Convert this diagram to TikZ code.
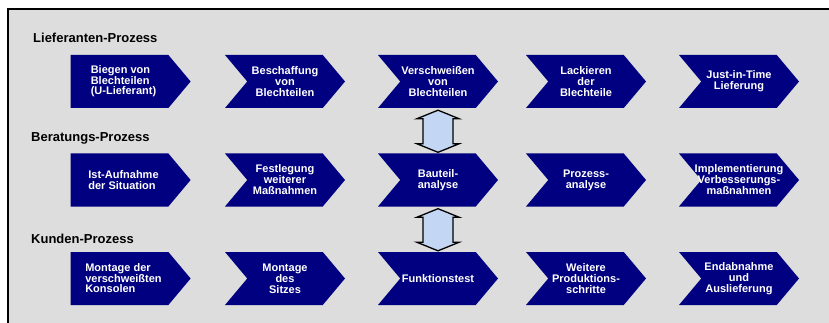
\documentclass[tikz,border=0pt]{standalone}
\usepackage{fontspec}
\setmainfont{Liberation Sans}
\usetikzlibrary{shapes.symbols,calc}
\definecolor{stepblue}{RGB}{0,0,128}
\definecolor{panelgray}{RGB}{221,221,221}
\definecolor{arrowblue}{RGB}{195,215,245}

% fat double arrow from one step to the step below
\newcommand{\updown}[2]{%
  \coordinate (tp) at ($(#1.south)+(0,2)$);
  \draw[dblarrow] (tp) -- ++(21,8.5) -- ++(-6,0) -- ($(#2.north)+(15,-9.5)$) -- ++(6,0)
    -- ($(#2.north)+(0,-1)$) -- ++(-21,-8.5) -- ++(6,0) -- ($(tp)+(-15,8.5)$) -- ++(-6,0) -- cycle;}

\begin{document}
\begin{tikzpicture}[x=1pt,y=-1pt,
    stepbox/.style={signal, signal to=east, signal from=west, signal pointer angle=100,
      fill=stepblue, minimum height=53pt, minimum width=120pt, inner sep=0pt},
    firstbox/.style={stepbox, signal from=nowhere},
    steptxt/.style={text=white, font=\fontsize{11}{11}\selectfont\bfseries, align=center, inner sep=0pt},
    lefttxt/.style={steptxt, align=left, xshift=4pt, font=\fontsize{11}{10.5}\selectfont\bfseries},
    head/.style={font=\fontsize{13}{15}\selectfont\bfseries, inner sep=0pt, anchor=base west},
    dblarrow/.style={fill=arrowblue, draw=black, line width=1.3pt, line join=miter}]
    \useasboundingbox (0,0) rectangle (829,323);
    \fill[panelgray] (8,9) rectangle (829,323);
    \draw[line width=1.2pt] (8,323) -- (8,9) -- (829,9);

    % Lieferanten-Prozess
    \node[head] (hl) at (33,43) {Lieferanten-Prozess};
    \node[firstbox, label={[lefttxt]center:{Biegen von\\Blechteilen\\(U-Lieferant)}}] (l1) at (119.5,81.5) {};
    \node[stepbox, label={[steptxt]center:{Beschaffung\\von\\Blechteilen}}] (l2) at (285,81.5) {};
    \node[stepbox, label={[steptxt]center:{Verschweißen\\von\\Blechteilen}}] (l3) at (438,81.5) {};
    \node[stepbox, label={[steptxt]center:{Lackieren\\der\\Blechteile}}] (l4) at (586,81.5) {};
    \node[stepbox, label={[steptxt]center:{Just-in-Time\\Lieferung}}] (l5) at (739,81.5) {};

    % Beratungs-Prozess
    \node[head] (hb) at (31,142) {Beratungs-Prozess};
    \node[firstbox, label={[lefttxt]center:{Ist-Aufnahme\\der Situation}}] (b1) at (119.5,180) {};
    \node[stepbox, label={[steptxt]center:{Festlegung\\weiterer\\Maßnahmen}}] (b2) at (285,180) {};
    \node[stepbox, label={[steptxt]center:{Bauteil-\\analyse}}] (b3) at (438,180) {};
    \node[stepbox, label={[steptxt]center:{Prozess-\\analyse}}] (b4) at (586,180) {};
    \node[stepbox, label={[steptxt]center:{Implementierung\\Verbesserungs-\\maßnahmen}}] (b5) at (739,180) {};

    % Kunden-Prozess
    \node[head] (hk) at (31,243) {Kunden-Prozess};
    \node[firstbox, label={[lefttxt]center:{Montage der\\verschweißten\\Konsolen}}] (k1) at (119.5,278.5) {};
    \node[stepbox, label={[steptxt]center:{Montage\\des\\Sitzes}}] (k2) at (285,278.5) {};
    \node[stepbox, label={[steptxt]center:{Funktionstest}}] (k3) at (438,278.5) {};
    \node[stepbox, label={[steptxt]center:{Weitere\\Produktions-\\schritte}}] (k4) at (586,278.5) {};
    \node[stepbox, label={[steptxt]center:{Endabnahme\\und\\Auslieferung}}] (k5) at (739,278.5) {};

    \updown{l3}{b3}
    \updown{b3}{k3}
\end{tikzpicture}
\end{document}
